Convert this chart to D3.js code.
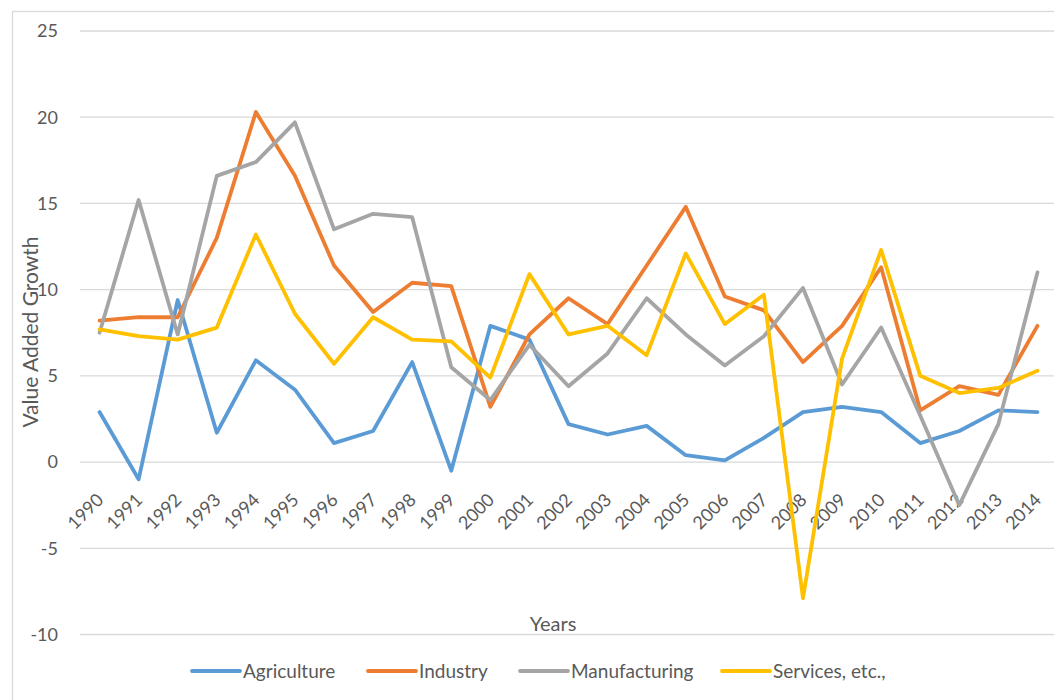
<!DOCTYPE html>
<html>
<head>
<meta charset="utf-8">
<script src="https://cdn.jsdelivr.net/npm/d3@7"></script>
<style>
  body { margin: 0; background: #fff; }
  text { font-family: Lato, "Open Sans", sans-serif; fill: #595959; }
</style>
</head>
<body>
<svg id="chart"></svg>
<script>
// chart data
const years = d3.range(1990, 2015).map(String);
const agriculture = [2.9, -1.0, 9.4, 1.7, 5.9, 4.2, 1.1, 1.8, 5.8, -0.5, 7.9, 7.1, 2.2, 1.6, 2.1, 0.4, 0.1, 1.4, 2.9, 3.2, 2.9, 1.1, 1.8, 3.0, 2.9];
const industry = [8.2, 8.4, 8.4, 13.0, 20.3, 16.6, 11.4, 8.7, 10.4, 10.2, 3.2, 7.4, 9.5, 8.0, 11.4, 14.8, 9.6, 8.8, 5.8, 7.9, 11.3, 3.0, 4.4, 3.9, 7.9];
const manufacturing = [7.5, 15.2, 7.4, 16.6, 17.4, 19.7, 13.5, 14.4, 14.2, 5.5, 3.6, 6.8, 4.4, 6.3, 9.5, 7.4, 5.6, 7.3, 10.1, 4.5, 7.8, 2.7, -2.5, 2.2, 11.0];
const services = [7.7, 7.3, 7.1, 7.8, 13.2, 8.6, 5.7, 8.4, 7.1, 7.0, 4.9, 10.9, 7.4, 7.9, 6.2, 12.1, 8.0, 9.7, -7.9, 6.0, 12.3, 5.0, 4.0, 4.3, 5.3];
const yTicks = [-10, -5, 0, 5, 10, 15, 20, 25];

const series = [
  { name: "Agriculture", values: agriculture, color: "#5B9BD5" },
  { name: "Industry", values: industry, color: "#ED7D31" },
  { name: "Manufacturing", values: manufacturing, color: "#A5A5A5" },
  { name: "Services, etc.,", values: services, color: "#FFC000" }
];

const width = 1054;
const height = 700;
const plot = { left: 80, right: 1057, top: 31, bottom: 634.5 };

const svg = d3.select("#chart")
  .attr("width", width)
  .attr("height", height);

// outer chart border
svg.append("rect")
  .attr("x", 12.5)
  .attr("y", 11.5)
  .attr("width", 1100)
  .attr("height", 800)
  .attr("fill", "none")
  .attr("stroke", "#D9D9D9")
  .attr("stroke-width", 1.3);

// scales
const x = d3.scaleBand()
  .domain(years)
  .range([plot.left, plot.right]);

const y = d3.scaleLinear()
  .domain([-10, 25])
  .range([plot.bottom, plot.top]);

// gridlines
svg.append("g")
  .selectAll("line")
  .data(yTicks)
  .join("line")
  .attr("x1", plot.left)
  .attr("x2", plot.right)
  .attr("y1", d => y(d))
  .attr("y2", d => y(d))
  .attr("stroke", "#D9D9D9")
  .attr("stroke-width", 1.3);

// y tick labels
svg.append("g")
  .selectAll("text")
  .data(yTicks)
  .join("text")
  .attr("x", 58)
  .attr("y", d => y(d))
  .attr("dy", "0.35em")
  .attr("text-anchor", "end")
  .style("font-size", "18px")
  .text(d => d);

// x tick labels, rotated
svg.append("g")
  .selectAll("text")
  .data(years)
  .join("text")
  .attr("text-anchor", "end")
  .attr("transform", d => `translate(${x(d) + x.bandwidth() / 2 + 5},501) rotate(-45)`)
  .style("font-size", "18px")
  .text(d => d);

// lines
const line = d3.line()
  .x((d, i) => x(years[i]) + x.bandwidth() / 2)
  .y(d => y(d));

svg.append("g")
  .selectAll("path")
  .data(series)
  .join("path")
  .attr("fill", "none")
  .attr("stroke", d => d.color)
  .attr("stroke-width", 3.8)
  .attr("stroke-linejoin", "round")
  .attr("stroke-linecap", "round")
  .attr("d", d => line(d.values));

// axis titles
svg.append("text")
  .attr("x", 553)
  .attr("y", 631)
  .attr("text-anchor", "middle")
  .style("font-size", "20px")
  .text("Years");

svg.append("text")
  .attr("transform", "translate(38,332) rotate(-90)")
  .attr("text-anchor", "middle")
  .style("font-size", "21px")
  .text("Value Added Growth");

// legend
const legendX = [192, 368, 520, 722];
const legend = svg.append("g")
  .selectAll("g")
  .data(series)
  .join("g")
  .attr("transform", (d, i) => `translate(${legendX[i]},671)`);

legend.append("line")
  .attr("x1", 0)
  .attr("x2", 48)
  .attr("stroke", d => d.color)
  .attr("stroke-width", 3.8)
  .attr("stroke-linecap", "round");

legend.append("text")
  .attr("x", 51)
  .attr("dy", "0.35em")
  .style("font-size", "19px")
  .text(d => d.name);
</script>
</body>
</html>
